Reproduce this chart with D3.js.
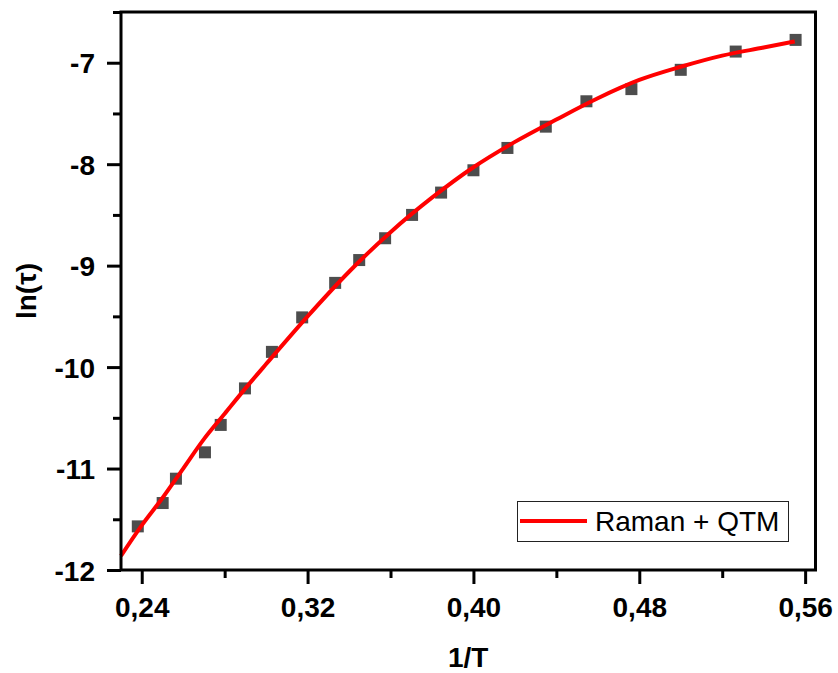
<!DOCTYPE html>
<html>
<head>
<meta charset="utf-8">
<script src="https://cdn.jsdelivr.net/npm/d3@7"></script>
<style>
  body { margin: 0; background: #fff; }
  svg { display: block; }
  .tick text { font-family: "Liberation Sans", Arial, sans-serif; font-weight: bold; font-size: 28px; fill: #000; }
</style>
</head>
<body>
<svg id="chart" width="838" height="673"></svg>
<script>
// measured points (1/T, ln tau)
let invT = [0.2381, 0.2501, 0.2565, 0.2705, 0.2781, 0.2898, 0.3028, 0.3174, 0.3333, 0.3449,
            0.3574, 0.3704, 0.3844, 0.4000, 0.4164, 0.4349, 0.4545, 0.4762, 0.5000, 0.5265, 0.5554];
let lnTau = [-11.57, -11.34, -11.10, -10.84, -10.57, -10.21, -9.85, -9.51, -9.17, -8.945,
             -8.73, -8.50, -8.28, -8.06, -7.84, -7.63, -7.38, -7.26, -7.07, -6.89, -6.775];

// fitted curve (Raman + QTM)
let fitX = [0.230, 0.240, 0.250, 0.260, 0.270, 0.280, 0.290, 0.300, 0.320, 0.340, 0.360,
            0.380, 0.400, 0.420, 0.440, 0.460, 0.480, 0.500, 0.520, 0.540, 0.555];
let fitY = [-11.86, -11.56, -11.29, -11.00, -10.71, -10.46, -10.21, -9.97, -9.50, -9.06, -8.67,
            -8.33, -8.03, -7.78, -7.56, -7.35, -7.17, -7.04, -6.93, -6.85, -6.79];

let xTicks = [0.24, 0.32, 0.40, 0.48, 0.56];
let xMinor = [0.28, 0.36, 0.44, 0.52];
let yTicks = [-12, -11, -10, -9, -8, -7];
let yMinor = [-11.5, -10.5, -9.5, -8.5, -7.5, -6.5];

let svg = d3.select("#chart");
let pLeft = 121, pRight = 815.5, pTop = 12, pBottom = 570;

let xScale = d3.scaleLinear().domain([0.23, 0.565]).range([pLeft, pRight]);
let yScale = d3.scaleLinear().domain([-12, -6.5]).range([pBottom, pTop]);

let fmt = d => d3.format(".2f")(d).replace(".", ",");

// minor ticks first
svg.append("g")
    .attr("transform", "translate(0," + pBottom + ")")
    .call(d3.axisBottom(xScale).tickValues(xMinor).tickSize(8).tickFormat(""))
    .call(g => g.select(".domain").remove())
    .selectAll("line").attr("stroke", "#000").attr("stroke-width", 3);

svg.append("g")
    .attr("transform", "translate(" + pLeft + ",0)")
    .call(d3.axisLeft(yScale).tickValues(yMinor).tickSize(8).tickFormat(""))
    .call(g => g.select(".domain").remove())
    .selectAll("line").attr("stroke", "#000").attr("stroke-width", 3);

// major ticks
let xAxis = svg.append("g")
    .attr("transform", "translate(0," + pBottom + ")")
    .call(d3.axisBottom(xScale).tickValues(xTicks).tickSize(14).tickPadding(13).tickFormat(fmt));
xAxis.select(".domain").remove();
xAxis.selectAll("line").attr("stroke", "#000").attr("stroke-width", 3);

let yAxis = svg.append("g")
    .attr("transform", "translate(" + pLeft + ",0)")
    .call(d3.axisLeft(yScale).tickValues(yTicks).tickSize(14).tickPadding(12).tickFormat(d => String(d)));
yAxis.select(".domain").remove();
yAxis.selectAll("line").attr("stroke", "#000").attr("stroke-width", 3);
yAxis.selectAll("text").attr("dy", "0.36em");

// scatter points
let pts = invT.map((x, i) => ({x: x, y: lnTau[i]}));
svg.append("g").selectAll("rect")
    .data(pts)
    .enter()
    .append("rect")
    .attr("x", d => xScale(d.x) - 6)
    .attr("y", d => yScale(d.y) - 6)
    .attr("width", 12)
    .attr("height", 12)
    .attr("fill", "#4d4d4d");

// fit line
let fit = fitX.map((x, i) => ({x: x, y: fitY[i]}));
let line = d3.line()
    .x(d => xScale(d.x))
    .y(d => yScale(d.y))
    .curve(d3.curveMonotoneX);
svg.append("path")
    .datum(fit)
    .attr("d", line)
    .attr("fill", "none")
    .attr("stroke", "#ff0000")
    .attr("stroke-width", 4);

// frame
svg.append("rect")
    .attr("x", pLeft).attr("y", pTop)
    .attr("width", pRight - pLeft).attr("height", pBottom - pTop)
    .attr("fill", "none").attr("stroke", "#000").attr("stroke-width", 3);

// legend
let lg = svg.append("g");
lg.append("rect")
    .attr("x", 517.5).attr("y", 501.5).attr("width", 271).attr("height", 40)
    .attr("fill", "#fff").attr("stroke", "#222").attr("stroke-width", 1);
lg.append("line")
    .attr("x1", 520).attr("x2", 587).attr("y1", 521).attr("y2", 521)
    .attr("stroke", "#ff0000").attr("stroke-width", 4);
lg.append("text")
    .attr("x", 595).attr("y", 531)
    .style("font-family", "Liberation Sans, Arial, sans-serif")
    .style("font-size", "28px")
    .text("Raman + QTM");

// axis titles
svg.append("text")
    .attr("x", (pLeft + pRight) / 2).attr("y", 667)
    .attr("text-anchor", "middle")
    .style("font-family", "Liberation Sans, Arial, sans-serif")
    .style("font-weight", "bold").style("font-size", "28px")
    .text("1/T");

svg.append("text")
    .attr("transform", "translate(36," + ((pTop + pBottom) / 2) + ") rotate(-90)")
    .attr("text-anchor", "middle")
    .style("font-family", "Liberation Sans, Arial, sans-serif")
    .style("font-weight", "bold").style("font-size", "28px")
    .text("ln(τ)");
</script>
</body>
</html>
